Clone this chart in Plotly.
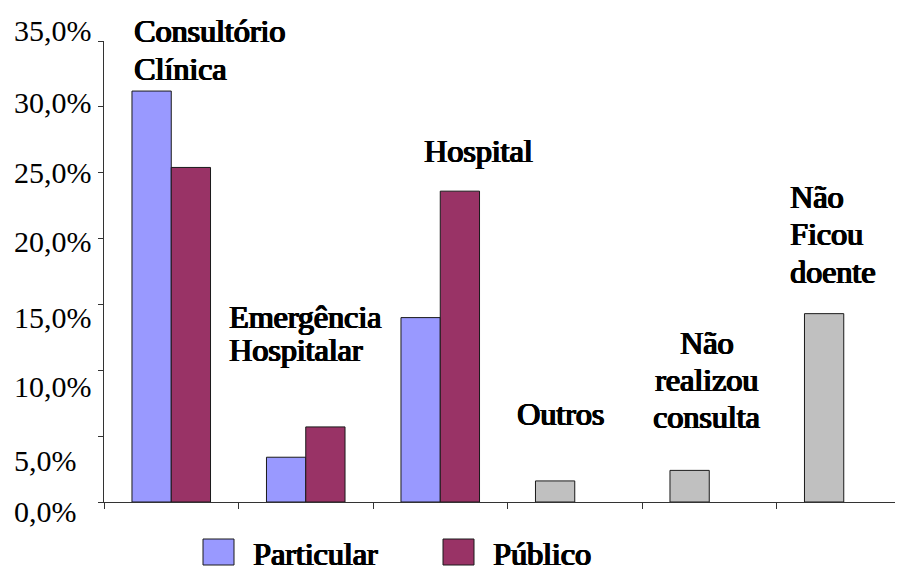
import plotly.graph_objects as go

# data (percent)
categories = ["Consultório Clínica", "Emergência Hospitalar", "Hospital",
              "Outros", "Não realizou consulta", "Não Ficou doente"]
particular = [31.2, 3.4, 14.0, 1.6, 2.4, 14.3]
publico = [25.4, 5.7, 23.6, None, None, None]
y_ticks = [0, 5, 10, 15, 20, 25, 30, 35]
y_tick_text = ["0,0%", "5,0%", "10,0%", "15,0%", "20,0%", "25,0%", "30,0%", "35,0%"]

FONT = "Liberation Serif"
BLUE = "#9999FF"
WINE = "#993366"
GRAY = "#C0C0C0"
EDGE = "#1a1a1a"
# no bold face of the serif font is available, so thicken it with a text shadow
BOLD = "0.6px 0 0 black, -0.6px 0 0 black, 1.1px 0 0 black, 0 0.4px 0 black"

# the last three categories are drawn grey in the original
part_colors = [BLUE, BLUE, BLUE, GRAY, GRAY, GRAY]

fig = go.Figure()
fig.add_trace(go.Bar(x=categories, y=particular, name="Particular",
                     marker=dict(color=part_colors, line=dict(color=EDGE, width=1))))
fig.add_trace(go.Bar(x=categories, y=publico, name="Público",
                     marker=dict(color=WINE, line=dict(color=EDGE, width=1))))

# page has an 8px body margin, so the figure starts at (8, 8)
fig.update_layout(
    width=903, height=572,
    margin=dict(l=96, r=0, t=33, b=78),
    paper_bgcolor="white", plot_bgcolor="white",
    barmode="group", bargap=0.416, bargroupgap=0,
    showlegend=False,
    font=dict(family=FONT, size=30, color="black"),
)
fig.update_xaxes(range=[-0.5, 5.5], showgrid=False, showticklabels=False,
                 showline=True, linecolor="#333", linewidth=1,
                 ticks="outside", tickson="boundaries", ticklen=6, tickcolor="#333")
fig.update_yaxes(range=[0, 35], showgrid=False, zeroline=False, showticklabels=False,
                 showline=True, linecolor="#333", linewidth=1,
                 tickvals=y_ticks, ticks="outside", ticklen=5, tickcolor="#333")

# tick labels: left aligned and irregularly offset like the original
nudges = [-9, -24, -16, -13, -3, 0, 4, 11]
for v, t, n in zip(y_ticks, y_tick_text, nudges):
    fig.add_annotation(x=0, xref="paper", xshift=-92, xanchor="left",
                       y=v, yref="y", yshift=n, yanchor="middle",
                       text=t, showarrow=False,
                       font=dict(family=FONT, size=30))

# category labels: lines, x, y anchor, first-line shift (px), line pitch (px), anchor
labels = [
    (["Consultório", "Clínica"], -0.292, 35, 10, 38, "left"),
    (["Emergência", "Hospitalar"], 0.414, 14.01, 0, 33, "left"),
    (["Hospital"], 1.864, 26.65, 0, 0, "left"),
    (["Outros"], 2.556, 6.68, 0, 0, "left"),
    (["Não", "realizou", "consulta"], 3.983, 12.07, 0, 37, "center"),
    (["Não", "Ficou", "doente"], 4.586, 23.16, 0, 37.5, "left"),
]
for lines, x, y, s0, pitch, xa in labels:
    for i, line in enumerate(lines):
        fig.add_annotation(x=x, y=y, xref="x", yref="y", yshift=s0 - i * pitch,
                           text=line, xanchor=xa, yanchor="middle", showarrow=False,
                           font=dict(family=FONT, size=32, shadow=BOLD))

# legend drawn by hand so the swatches can be large
legend_items = [("Particular", BLUE, 203), ("Público", WINE, 443)]
for name, col, px in legend_items:
    x0 = (px - 104) / 807
    fig.add_shape(type="rect", xref="paper", yref="paper",
                  x0=x0, x1=x0 + 31 / 807, y0=-37 / 461, y1=-63 / 461,
                  fillcolor=col, line=dict(color=EDGE, width=1))
    fig.add_annotation(x=x0 + 48 / 807, y=-52 / 461, xref="paper", yref="paper",
                       xanchor="left", yanchor="middle", showarrow=False,
                       text=name, font=dict(family=FONT, size=32, shadow=BOLD))

fig.write_html("out.html")
